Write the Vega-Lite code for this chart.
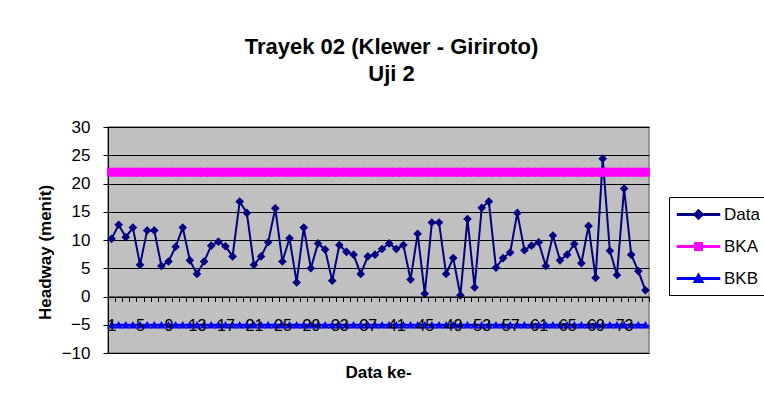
{
  "$schema": "https://vega.github.io/schema/vega-lite/v6.json",
  "width": 541,
  "height": 226,
  "autosize": {"type": "none"},
  "padding": {"left": 108, "top": 127, "right": 115, "bottom": 64},
  "background": "white",
  "config": {
    "font": "Liberation Sans",
    "view": {"fill": "#C0C0C0", "stroke": "#808080", "strokeWidth": 1.5}
  },
  "title": {
    "text": ["Trayek 02 (Klewer - Giriroto)", "Uji 2"],
    "fontSize": 22,
    "fontWeight": "bold",
    "color": "black",
    "anchor": "middle",
    "frame": "group",
    "lineHeight": 27,
    "offset": 32,
    "dx": 13
  },
  "data": {"values": [
    {"n":1,"series":"Data","v":10.2},{"n":2,"series":"Data","v":12.7},{"n":3,"series":"Data","v":10.5},{"n":4,"series":"Data","v":12.2},
    {"n":5,"series":"Data","v":5.6},{"n":6,"series":"Data","v":11.7},{"n":7,"series":"Data","v":11.7},{"n":8,"series":"Data","v":5.4},
    {"n":9,"series":"Data","v":6.2},{"n":10,"series":"Data","v":8.8},{"n":11,"series":"Data","v":12.2},{"n":12,"series":"Data","v":6.4},
    {"n":13,"series":"Data","v":4.0},{"n":14,"series":"Data","v":6.2},{"n":15,"series":"Data","v":9.0},{"n":16,"series":"Data","v":9.7},
    {"n":17,"series":"Data","v":8.9},{"n":18,"series":"Data","v":7.1},{"n":19,"series":"Data","v":16.8},{"n":20,"series":"Data","v":14.8},
    {"n":21,"series":"Data","v":5.6},{"n":22,"series":"Data","v":7.1},{"n":23,"series":"Data","v":9.6},{"n":24,"series":"Data","v":15.6},
    {"n":25,"series":"Data","v":6.2},{"n":26,"series":"Data","v":10.3},{"n":27,"series":"Data","v":2.5},{"n":28,"series":"Data","v":12.2},
    {"n":29,"series":"Data","v":5.0},{"n":30,"series":"Data","v":9.4},{"n":31,"series":"Data","v":8.3},{"n":32,"series":"Data","v":2.8},
    {"n":33,"series":"Data","v":9.1},{"n":34,"series":"Data","v":7.9},{"n":35,"series":"Data","v":7.4},{"n":36,"series":"Data","v":4.0},
    {"n":37,"series":"Data","v":7.1},{"n":38,"series":"Data","v":7.4},{"n":39,"series":"Data","v":8.4},{"n":40,"series":"Data","v":9.4},
    {"n":41,"series":"Data","v":8.4},{"n":42,"series":"Data","v":9.1},{"n":43,"series":"Data","v":3.0},{"n":44,"series":"Data","v":11.1},
    {"n":45,"series":"Data","v":0.5},{"n":46,"series":"Data","v":13.1},{"n":47,"series":"Data","v":13.1},{"n":48,"series":"Data","v":4.0},
    {"n":49,"series":"Data","v":6.8},{"n":50,"series":"Data","v":0.2},{"n":51,"series":"Data","v":13.7},{"n":52,"series":"Data","v":1.6},
    {"n":53,"series":"Data","v":15.7},{"n":54,"series":"Data","v":16.8},{"n":55,"series":"Data","v":5.1},{"n":56,"series":"Data","v":6.8},
    {"n":57,"series":"Data","v":7.8},{"n":58,"series":"Data","v":14.8},{"n":59,"series":"Data","v":8.2},{"n":60,"series":"Data","v":9.0},
    {"n":61,"series":"Data","v":9.6},{"n":62,"series":"Data","v":5.4},{"n":63,"series":"Data","v":10.8},{"n":64,"series":"Data","v":6.4},
    {"n":65,"series":"Data","v":7.4},{"n":66,"series":"Data","v":9.3},{"n":67,"series":"Data","v":5.9},{"n":68,"series":"Data","v":12.5},
    {"n":69,"series":"Data","v":3.3},{"n":70,"series":"Data","v":24.4},{"n":71,"series":"Data","v":8.1},{"n":72,"series":"Data","v":3.8},
    {"n":73,"series":"Data","v":19.1},{"n":74,"series":"Data","v":7.4},{"n":75,"series":"Data","v":4.5},{"n":76,"series":"Data","v":1.1},
    {"n":1,"series":"BKA","v":22},{"n":2,"series":"BKA","v":22},{"n":3,"series":"BKA","v":22},{"n":4,"series":"BKA","v":22},
    {"n":5,"series":"BKA","v":22},{"n":6,"series":"BKA","v":22},{"n":7,"series":"BKA","v":22},{"n":8,"series":"BKA","v":22},
    {"n":9,"series":"BKA","v":22},{"n":10,"series":"BKA","v":22},{"n":11,"series":"BKA","v":22},{"n":12,"series":"BKA","v":22},
    {"n":13,"series":"BKA","v":22},{"n":14,"series":"BKA","v":22},{"n":15,"series":"BKA","v":22},{"n":16,"series":"BKA","v":22},
    {"n":17,"series":"BKA","v":22},{"n":18,"series":"BKA","v":22},{"n":19,"series":"BKA","v":22},{"n":20,"series":"BKA","v":22},
    {"n":21,"series":"BKA","v":22},{"n":22,"series":"BKA","v":22},{"n":23,"series":"BKA","v":22},{"n":24,"series":"BKA","v":22},
    {"n":25,"series":"BKA","v":22},{"n":26,"series":"BKA","v":22},{"n":27,"series":"BKA","v":22},{"n":28,"series":"BKA","v":22},
    {"n":29,"series":"BKA","v":22},{"n":30,"series":"BKA","v":22},{"n":31,"series":"BKA","v":22},{"n":32,"series":"BKA","v":22},
    {"n":33,"series":"BKA","v":22},{"n":34,"series":"BKA","v":22},{"n":35,"series":"BKA","v":22},{"n":36,"series":"BKA","v":22},
    {"n":37,"series":"BKA","v":22},{"n":38,"series":"BKA","v":22},{"n":39,"series":"BKA","v":22},{"n":40,"series":"BKA","v":22},
    {"n":41,"series":"BKA","v":22},{"n":42,"series":"BKA","v":22},{"n":43,"series":"BKA","v":22},{"n":44,"series":"BKA","v":22},
    {"n":45,"series":"BKA","v":22},{"n":46,"series":"BKA","v":22},{"n":47,"series":"BKA","v":22},{"n":48,"series":"BKA","v":22},
    {"n":49,"series":"BKA","v":22},{"n":50,"series":"BKA","v":22},{"n":51,"series":"BKA","v":22},{"n":52,"series":"BKA","v":22},
    {"n":53,"series":"BKA","v":22},{"n":54,"series":"BKA","v":22},{"n":55,"series":"BKA","v":22},{"n":56,"series":"BKA","v":22},
    {"n":57,"series":"BKA","v":22},{"n":58,"series":"BKA","v":22},{"n":59,"series":"BKA","v":22},{"n":60,"series":"BKA","v":22},
    {"n":61,"series":"BKA","v":22},{"n":62,"series":"BKA","v":22},{"n":63,"series":"BKA","v":22},{"n":64,"series":"BKA","v":22},
    {"n":65,"series":"BKA","v":22},{"n":66,"series":"BKA","v":22},{"n":67,"series":"BKA","v":22},{"n":68,"series":"BKA","v":22},
    {"n":69,"series":"BKA","v":22},{"n":70,"series":"BKA","v":22},{"n":71,"series":"BKA","v":22},{"n":72,"series":"BKA","v":22},
    {"n":73,"series":"BKA","v":22},{"n":74,"series":"BKA","v":22},{"n":75,"series":"BKA","v":22},{"n":76,"series":"BKA","v":22},
    {"n":1,"series":"BKB","v":-5},{"n":2,"series":"BKB","v":-5},{"n":3,"series":"BKB","v":-5},{"n":4,"series":"BKB","v":-5},
    {"n":5,"series":"BKB","v":-5},{"n":6,"series":"BKB","v":-5},{"n":7,"series":"BKB","v":-5},{"n":8,"series":"BKB","v":-5},
    {"n":9,"series":"BKB","v":-5},{"n":10,"series":"BKB","v":-5},{"n":11,"series":"BKB","v":-5},{"n":12,"series":"BKB","v":-5},
    {"n":13,"series":"BKB","v":-5},{"n":14,"series":"BKB","v":-5},{"n":15,"series":"BKB","v":-5},{"n":16,"series":"BKB","v":-5},
    {"n":17,"series":"BKB","v":-5},{"n":18,"series":"BKB","v":-5},{"n":19,"series":"BKB","v":-5},{"n":20,"series":"BKB","v":-5},
    {"n":21,"series":"BKB","v":-5},{"n":22,"series":"BKB","v":-5},{"n":23,"series":"BKB","v":-5},{"n":24,"series":"BKB","v":-5},
    {"n":25,"series":"BKB","v":-5},{"n":26,"series":"BKB","v":-5},{"n":27,"series":"BKB","v":-5},{"n":28,"series":"BKB","v":-5},
    {"n":29,"series":"BKB","v":-5},{"n":30,"series":"BKB","v":-5},{"n":31,"series":"BKB","v":-5},{"n":32,"series":"BKB","v":-5},
    {"n":33,"series":"BKB","v":-5},{"n":34,"series":"BKB","v":-5},{"n":35,"series":"BKB","v":-5},{"n":36,"series":"BKB","v":-5},
    {"n":37,"series":"BKB","v":-5},{"n":38,"series":"BKB","v":-5},{"n":39,"series":"BKB","v":-5},{"n":40,"series":"BKB","v":-5},
    {"n":41,"series":"BKB","v":-5},{"n":42,"series":"BKB","v":-5},{"n":43,"series":"BKB","v":-5},{"n":44,"series":"BKB","v":-5},
    {"n":45,"series":"BKB","v":-5},{"n":46,"series":"BKB","v":-5},{"n":47,"series":"BKB","v":-5},{"n":48,"series":"BKB","v":-5},
    {"n":49,"series":"BKB","v":-5},{"n":50,"series":"BKB","v":-5},{"n":51,"series":"BKB","v":-5},{"n":52,"series":"BKB","v":-5},
    {"n":53,"series":"BKB","v":-5},{"n":54,"series":"BKB","v":-5},{"n":55,"series":"BKB","v":-5},{"n":56,"series":"BKB","v":-5},
    {"n":57,"series":"BKB","v":-5},{"n":58,"series":"BKB","v":-5},{"n":59,"series":"BKB","v":-5},{"n":60,"series":"BKB","v":-5},
    {"n":61,"series":"BKB","v":-5},{"n":62,"series":"BKB","v":-5},{"n":63,"series":"BKB","v":-5},{"n":64,"series":"BKB","v":-5},
    {"n":65,"series":"BKB","v":-5},{"n":66,"series":"BKB","v":-5},{"n":67,"series":"BKB","v":-5},{"n":68,"series":"BKB","v":-5},
    {"n":69,"series":"BKB","v":-5},{"n":70,"series":"BKB","v":-5},{"n":71,"series":"BKB","v":-5},{"n":72,"series":"BKB","v":-5},
    {"n":73,"series":"BKB","v":-5},{"n":74,"series":"BKB","v":-5},{"n":75,"series":"BKB","v":-5},{"n":76,"series":"BKB","v":-5}
  ]},
  "encoding": {
    "x": {
      "field": "n", "type": "ordinal",
      "scale": {"type": "band", "paddingInner": 0, "paddingOuter": 0},
      "axis": {
        "orient": "bottom", "offset": -56.5, "zindex": 1,
        "tickBand": "extent", "tickSize": 5, "tickColor": "black", "domainColor": "black", "domainWidth": 1,
        "labelAngle": 0, "labelOverlap": false,
        "labelExpr": "(datum.value - 1) % 4 == 0 ? datum.label : ''",
        "labelFontSize": 16, "labelColor": "black", "labelBaseline": "middle", "labelPadding": 24,
        "title": "Data ke-", "titleFontSize": 17, "titleFontWeight": "bold", "titleColor": "black",
        "titleX": 270, "titleY": 76, "titleBaseline": "middle", "titleAlign": "center", "grid": false
      }
    },
    "y": {
      "field": "v", "type": "quantitative",
      "scale": {"domain": [-10, 30], "nice": false, "zero": false},
      "axis": {
        "values": [-10, -5, 0, 5, 10, 15, 20, 25, 30],
        "grid": true, "gridColor": "black", "gridWidth": 1, "gridOpacity": 1,
        "domainColor": "black", "domainWidth": 1, "tickColor": "black", "tickSize": 5,
        "labelFontSize": 17, "labelColor": "black", "labelPadding": 13,
        "title": "Headway (menit)", "titleFontSize": 17, "titleFontWeight": "bold", "titleColor": "black",
        "titleX": -63, "titleY": 125, "titleAngle": 270, "titleBaseline": "middle", "titleAlign": "center"
      }
    },
    "color": {
      "field": "series", "type": "nominal",
      "scale": {"domain": ["Data", "BKA", "BKB"], "range": ["#000080", "#FF00FF", "#0000FF"]},
      "legend": {
        "title": null, "orient": "none", "legendX": 561, "legendY": 70,
        "strokeColor": "black", "fillColor": "white", "padding": 8, "cornerRadius": 0,
        "labelFontSize": 17, "labelColor": "black", "labelOffset": 16, "rowPadding": 14,
        "symbolSize": 282, "symbolOffset": 12, "symbolOpacity": 1
      }
    }
  },
  "layer": [
    {"mark": {"type": "line", "strokeWidth": 2}},
    {
      "transform": [{"filter": {"field": "series", "equal": "Data"}}],
      "mark": {"type": "point", "filled": true, "opacity": 1, "shape": "diamond", "size": 75}
    },
    {
      "transform": [{"filter": {"field": "series", "equal": "BKA"}}],
      "mark": {"type": "point", "filled": true, "opacity": 1, "shape": "square", "size": 81}
    },
    {
      "transform": [{"filter": {"field": "series", "equal": "BKB"}}],
      "mark": {"type": "point", "filled": true, "opacity": 1, "shape": "triangle-up", "size": 75}
    },
    {
      "transform": [{"filter": "datum.v > 1000"}],
      "mark": {"type": "point", "filled": true, "opacity": 1},
      "encoding": {
        "shape": {"field": "series", "type": "nominal",
          "scale": {"domain": ["Data", "BKA", "BKB"], "range": [
            "M-2.5,-0.09L2.5,-0.09L2.5,0.09L-2.5,0.09Z M0,-0.55L0.55,0L0,0.55L-0.55,0Z",
            "M-2.5,-0.09L2.5,-0.09L2.5,0.09L-2.5,0.09Z M-0.45,-0.45L0.45,-0.45L0.45,0.45L-0.45,0.45Z",
            "M-2.5,-0.09L2.5,-0.09L2.5,0.09L-2.5,0.09Z M0,-0.55L0.55,0.45L-0.55,0.45Z"
          ]},
          "legend": {
            "title": null, "orient": "none", "legendX": 561, "legendY": 70,
            "strokeColor": "black", "fillColor": "white", "padding": 8, "cornerRadius": 0,
            "labelFontSize": 17, "labelColor": "black", "labelOffset": 16, "rowPadding": 14,
            "symbolSize": 282, "symbolOffset": 12, "symbolOpacity": 1
          }
        }
      }
    }
  ]
}
